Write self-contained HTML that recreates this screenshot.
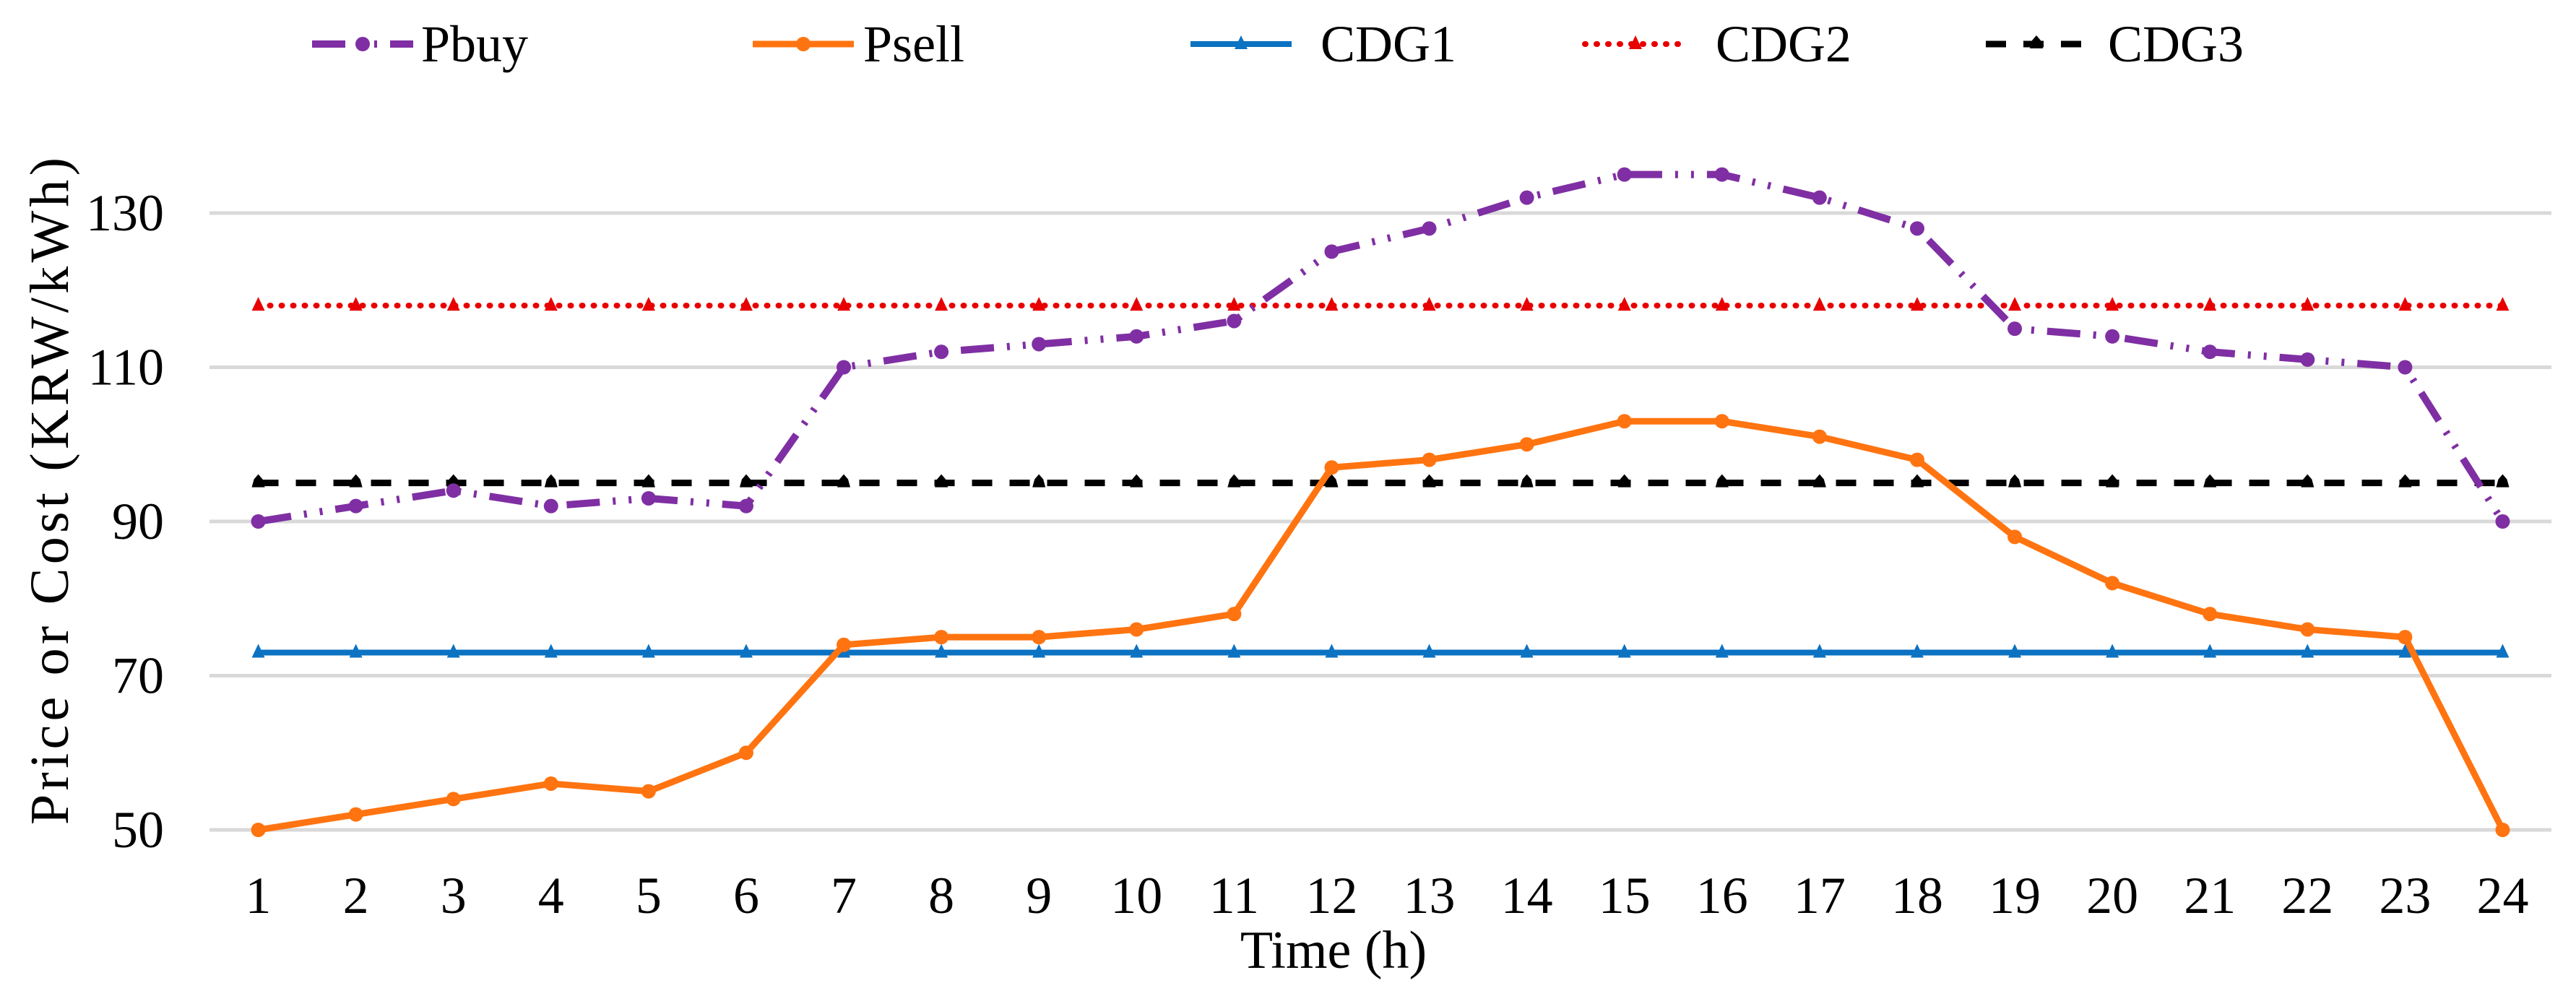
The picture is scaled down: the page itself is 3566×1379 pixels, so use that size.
<!DOCTYPE html>
<html><head><meta charset="utf-8"><style>
html,body{margin:0;padding:0;background:#fff;}
svg{display:block;font-family:"Liberation Serif",serif;}
</style></head><body>
<svg id="chart" width="3566" height="1379" viewBox="0 0 3566 1379"></svg>
<script>
const hours=[1,2,3,4,5,6,7,8,9,10,11,12,13,14,15,16,17,18,19,20,21,22,23,24];
const pbuy=[90,92,94,92,93,92,110,112,113,114,116,125,128,132,135,135,132,128,115,114,112,111,110,90];
const psell=[50,52,54,56,55,60,74,75,75,76,78,97,98,100,103,103,101,98,88,82,78,76,75,50];
const cdg1=[73,73,73,73,73,73,73,73,73,73,73,73,73,73,73,73,73,73,73,73,73,73,73,73];
const cdg2=[118,118,118,118,118,118,118,118,118,118,118,118,118,118,118,118,118,118,118,118,118,118,118,118];
const cdg3=[95,95,95,95,95,95,95,95,95,95,95,95,95,95,95,95,95,95,95,95,95,95,95,95];
const yTicks=[50,70,90,110,130];

const NS="http://www.w3.org/2000/svg";
const svg=document.getElementById('chart');
const plotL=290, plotR=3532;
const xs=i=>plotL+(plotR-plotL)*(i+0.5)/hours.length;
const ys=v=>1149-(v-50)*(1149-295)/80;
function mk(tag,attrs,parent){const e=document.createElementNS(NS,tag);for(const k in attrs)e.setAttribute(k,attrs[k]);(parent||svg).appendChild(e);return e;}

yTicks.forEach(t=>{
  const g=mk('line',{x1:plotL,x2:plotR,y1:ys(t),y2:ys(t),stroke:'#d9d9d9','stroke-width':5});
  
  
  const tx=mk('text',{x:227,y:ys(t)+24,'font-size':72,'text-anchor':'end',fill:'#000'});
  tx.textContent=t;
  
  
});
hours.forEach((h,i)=>{
  const tx=mk('text',{x:xs(i),y:1264,'font-size':72,'text-anchor':'middle',fill:'#000'});
  tx.textContent=h;
  
  
});
const xt=mk('text',{x:1846,y:1340,'font-size':74,'text-anchor':'middle',fill:'#000'});
xt.textContent='Time (h)';


const yt=mk('text',{x:-462,y:0,'font-size':76,fill:'#000',textLength:924,lengthAdjust:'spacing',transform:'translate(94,680) rotate(-90)'});
yt.textContent='Price or Cost (KRW/kWh)';



function marker(type,x,y,color,parent){
  if(type==='circle') return mk('circle',{cx:x,cy:y,r:10,fill:color},parent);
  if(type==='tri') return mk('path',{d:`M${x-9},${y+7}L${x},${y-12}L${x+9},${y+7}Z`,fill:color},parent);
  if(type==='star') return mk('path',{d:`M${x-9},${y+6}L${x-6},${y-5}L${x},${y-12}L${x+6},${y-5}L${x+9},${y+6}Z`,fill:color},parent);
}
const series=[
 {name:'Pbuy',data:pbuy,color:'#7f2fa3',w:10,dash:'46 18 4 18 4 18',m:'circle'},
 {name:'Psell',data:psell,color:'#ff7410',w:9,dash:'',m:'circle'},
 {name:'CDG1',data:cdg1,color:'#0c72c2',w:8,dash:'',m:'tri'},
 {name:'CDG2',data:cdg2,color:'#e80000',w:8,dash:'6 10',m:'tri'},
 {name:'CDG3',data:cdg3,color:'#000',w:9,dash:'28 24',m:'star'}
];
const order=[2,3,4,1,0];
order.forEach(si=>{
  const s=series[si];
  const g=mk('g',{});
  
  
  const pts=s.data.map((v,i)=>xs(i)+','+ys(v)).join(' ');
  const attrs={points:pts,fill:'none',stroke:s.color,'stroke-width':s.w,'stroke-linejoin':'round'};
  if(s.dash)attrs['stroke-dasharray']=s.dash;
  if(s.name==='CDG2'){attrs['stroke-linecap']='round';attrs['stroke-dasharray']='1 15';}
  const pl=mk('polyline',attrs,g);
  
  
  s.data.forEach((v,i)=>{
    const m=marker(s.m,xs(i),ys(v),s.color,g);
    
    
  });
});
const legX=[[432,583],[1042,1195],[1648,1828],[2194,2375],[2749,2918]];
series.forEach((s,i)=>{
  const g=mk('g',{});
  
  
  const [x0,tx]=legX[i];
  const la={x1:x0,x2:x0+140,y1:61,y2:61,stroke:s.color,'stroke-width':s.w};
  if(s.dash)la['stroke-dasharray']=s.dash;
  if(s.name==='CDG2'){la['stroke-linecap']='round';la['stroke-dasharray']='1 15';}
  mk('line',la,g);
  marker(s.m,x0+70,61,s.color,g);
  const t=mk('text',{x:tx,y:85,'font-size':72,fill:'#000'},g);
  t.textContent=s.name;
});
</script>
</body></html>
